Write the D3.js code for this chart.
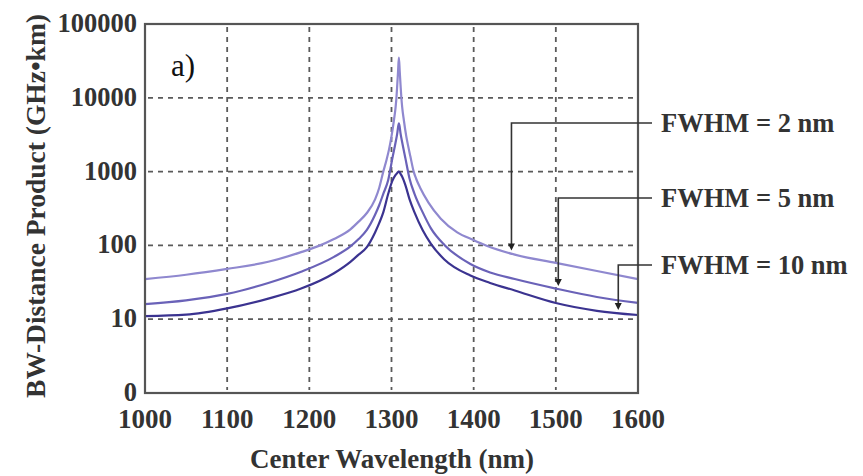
<!DOCTYPE html>
<html><head><meta charset="utf-8">
<script src="https://cdn.jsdelivr.net/npm/d3@7"></script>
<style>body{margin:0;background:#fff}svg{display:block}</style>
</head><body>
<svg id="c" width="863" height="476"></svg>
<script>
// ---- data ----
const wl2  = [1000,1050,1100,1150,1190,1210,1230,1250,1260,1270,1280,1285,1290,1294,1297,1300,1303,1305,1306,1307,1308,1309,1310,1311,1312,1313,1315,1318,1320,1323,1327,1330,1335,1345,1360,1380,1400,1415,1450,1500,1550,1600];
const fwhm2 = [35,40,48,60,81,97,122,165,210,275,420,600,1000,1450,2000,3000,5000,7500,10000,15000,23000,35000,23000,15000,10000,7500,5000,3000,2300,1600,1000,800,600,380,230,150,118,100,75,58,45,35];
const wl5  = [1000,1050,1100,1150,1190,1230,1250,1260,1270,1280,1285,1290,1296,1301,1305,1307,1308,1309,1310,1311,1313,1317,1322,1328,1338,1348,1365,1396,1420,1450,1500,1550,1600];
const fwhm5 = [16,18,22,31,44,70,97,122,162,260,350,500,770,1500,2500,3300,4000,4500,4000,3300,2500,1500,800,500,280,170,100,56,43,35,26,20,16.6];
const wl10 = [1000,1050,1100,1150,1190,1230,1250,1260,1270,1280,1285,1290,1296,1301,1305,1307,1309,1311,1313,1317,1322,1328,1338,1348,1364,1396,1420,1450,1500,1550,1600];
const fwhm10 = [11,11.5,14,19,26,42,60,75,95,150,200,280,500,750,900,960,1000,930,850,650,420,280,160,105,65,39,31,24.5,16.6,13,11.4];
const xTicks = [1000,1100,1200,1300,1400,1500,1600];
const yTicks = [1,10,100,1000,10000,100000];
const yTickLabels = ["0","10","100","1000","10000","100000"];
const seriesNames = ["FWHM = 2 nm","FWHM = 5 nm","FWHM = 10 nm"];
// callout pointer targets (wavelength) for each label
const calloutWl = [1446,1503,1576];

const svg = d3.select("#c");
const L=145,R=638,T=24,B=393;
const x = d3.scaleLinear().domain([1000,1600]).range([L,R]);
const y = d3.scaleLog().domain([1,100000]).range([B,T]);
const font = "'Liberation Serif', serif";
const grid="#5a5a5a";

// grid
const g = svg.append("g");
g.selectAll("line.vx").data(xTicks.slice(1,-1)).join("line")
  .attr("x1",d=>x(d)).attr("x2",d=>x(d)).attr("y1",T+3).attr("y2",B-3)
  .attr("stroke",grid).attr("stroke-width",1.8).attr("stroke-dasharray","5,5");
g.selectAll("line.hy").data(yTicks.slice(1,-1)).join("line")
  .attr("y1",d=>y(d)).attr("y2",d=>y(d)).attr("x1",L+3).attr("x2",R-3)
  .attr("stroke",grid).attr("stroke-width",1.8).attr("stroke-dasharray","5,5");

// curves
const line = d3.line().x(d=>x(d[0])).y(d=>y(d[1])).curve(d3.curveMonotoneX);
const series = [
  {wl:wl2,v:fwhm2,c:"#8f88cf"},
  {wl:wl5,v:fwhm5,c:"#6a62b8"},
  {wl:wl10,v:fwhm10,c:"#3b3390"}
];
svg.append("g").selectAll("path").data(series).join("path")
  .attr("d",s=>line(s.wl.map((w,i)=>[w,s.v[i]])))
  .attr("fill","none").attr("stroke",s=>s.c).attr("stroke-width",2.2);

// frame
svg.append("rect").attr("x",L).attr("y",T).attr("width",R-L).attr("height",B-T)
  .attr("fill","none").attr("stroke","#555").attr("stroke-width",2.2);

// axes labels
svg.append("g").selectAll("text").data(xTicks).join("text")
  .attr("x",d=>x(d)).attr("y",428).attr("text-anchor","middle")
  .attr("font-family",font).attr("font-weight","bold").attr("font-size",27).attr("fill","#333")
  .text(d=>d);
svg.append("g").selectAll("text").data(yTicks).join("text")
  .attr("x",137).attr("y",d=>y(d)+8).attr("text-anchor","end")
  .attr("font-family",font).attr("font-weight","bold").attr("font-size",26.5).attr("fill","#333")
  .text((d,i)=>yTickLabels[i]);
svg.append("text").attr("x",392).attr("y",468).attr("text-anchor","middle")
  .attr("font-family",font).attr("font-weight","bold").attr("font-size",27).attr("fill","#333")
  .text("Center Wavelength (nm)");
svg.append("text").attr("transform","translate(45,206) rotate(-90)").attr("text-anchor","middle")
  .attr("font-family",font).attr("font-weight","bold").attr("font-size",27.5).attr("fill","#333")
  .text("BW-Distance Product (GHz\u2022km)");
svg.append("text").attr("x",171).attr("y",76)
  .attr("font-family",font).attr("font-size",31).attr("fill","#111").text("a)");

// callouts
const labelY=[123,198,265];
const seriesArr=[[wl2,fwhm2],[wl5,fwhm5],[wl10,fwhm10]];
const co = svg.append("g");
seriesNames.forEach((n,i)=>{
  const cx = x(calloutWl[i]);
  const interp = d3.scaleLinear().domain(seriesArr[i][0]).range(seriesArr[i][1].map(v=>Math.log10(v)));
  const ty = y(Math.pow(10,interp(calloutWl[i])))-3;
  co.append("path").attr("d",`M652,${labelY[i]}H${cx}V${ty-6}`)
    .attr("fill","none").attr("stroke","#333").attr("stroke-width",1.6);
  co.append("path").attr("d",`M${cx-3.5},${ty-7}L${cx+3.5},${ty-7}L${cx},${ty}Z`).attr("fill","#222");
  co.append("text").attr("x",661).attr("y",labelY[i]+9)
    .attr("font-family",font).attr("font-weight","bold").attr("font-size",26.5).attr("fill","#333")
    .text(n);
});
</script>
</body></html>
